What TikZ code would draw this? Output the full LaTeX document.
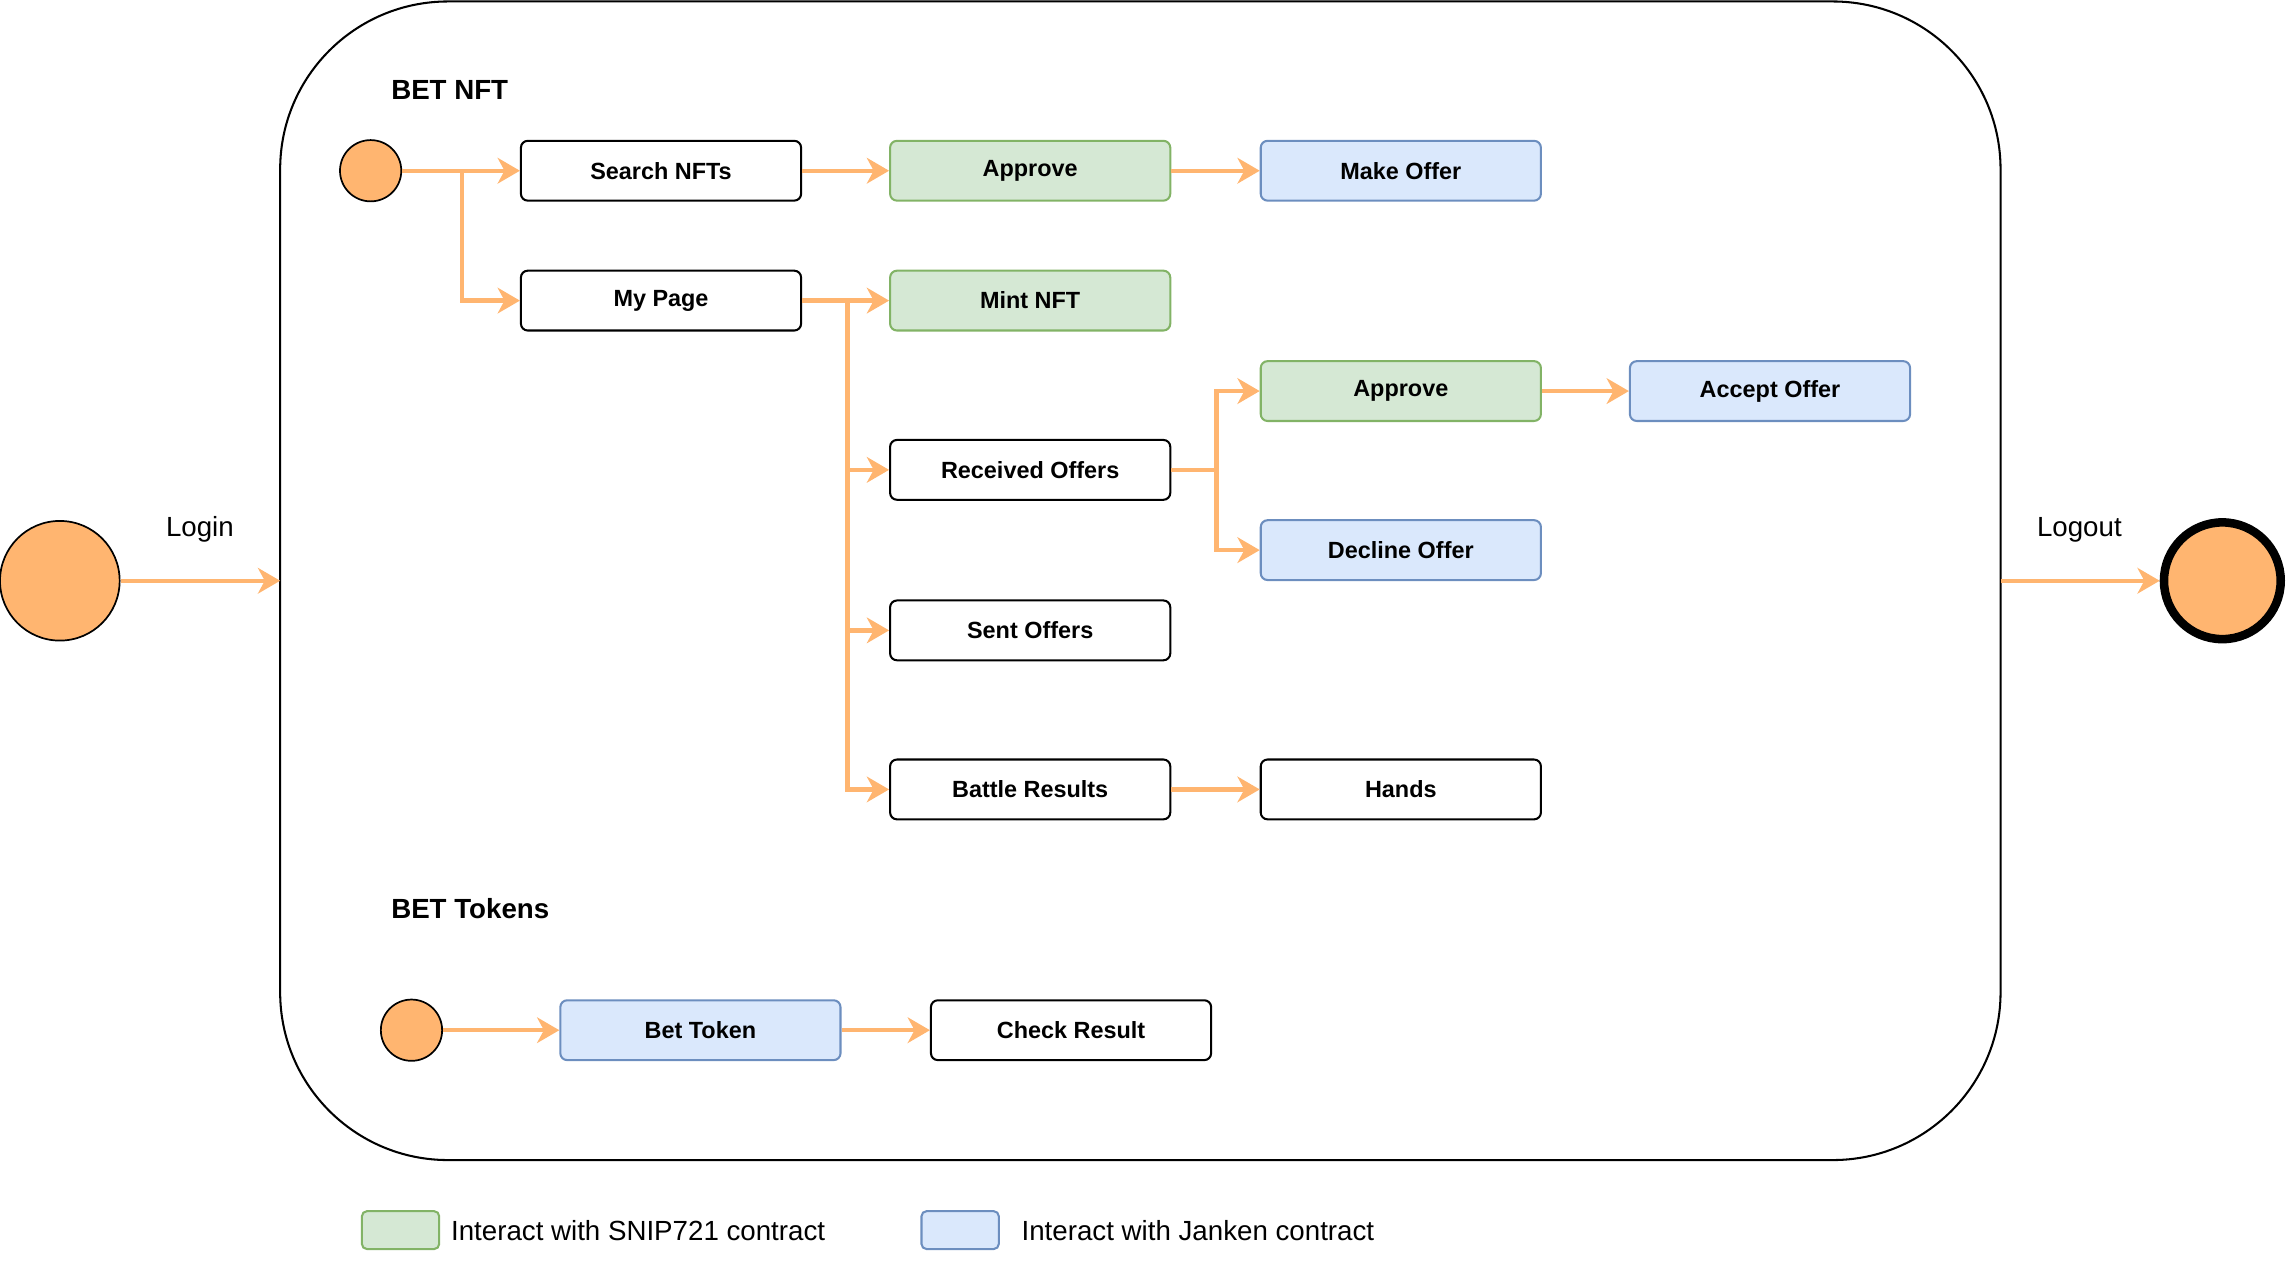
\documentclass[tikz,border=0pt]{standalone}
\usepackage{fontspec}
\setmainfont{Liberation Sans}
\usepackage{xcolor}
\usetikzlibrary{arrows.meta,shapes,calc}

\definecolor{orng}{HTML}{FFB570}
\definecolor{grnfill}{HTML}{D5E8D4}
\definecolor{grnline}{HTML}{82B366}
\definecolor{blufill}{HTML}{DAE8FC}
\definecolor{bluline}{HTML}{6C8EBF}

\begin{document}
\begin{tikzpicture}[x=0.03cm,y=-0.03cm]
            \tikzset{state/.style = {draw, rounded corners=4pt, line width=1.2pt, minimum width=5.76cm, minimum height=1.23cm, font=\fontsize{13.7}{16}\selectfont\bfseries}}
            \tikzset{snip/.style = {state, fill=grnfill, draw=grnline}}
            \tikzset{janken/.style = {state, fill=blufill, draw=bluline}}
            \tikzset{dot/.style = {circle, draw, fill=orng, line width=1pt, inner sep=0pt}}
            \tikzset{edge/.style = {draw=orng, line width=2.5pt, -{Stealth[length=13pt,width=15pt,inset=4pt]}}}
            \tikzset{caption/.style = {font=\fontsize{16.2}{19}\selectfont}}
            \tikzset{head/.style = {anchor=west, font=\fontsize{16.2}{19}\selectfont\bfseries}}
            \tikzset{swatch/.style = {draw, rounded corners=3pt, line width=1.2pt, minimum width=1.59cm, minimum height=0.78cm}}

            \useasboundingbox (0,0) rectangle (1568,866);

            % frame
            \draw[line width=1.2pt, rounded corners=3.45cm] (192,1) rectangle (1371,795);
            \coordinate (framein) at (192,398);
            \coordinate (frameout) at (1371,398);

            % vertices
            \node[dot, minimum size=2.46cm] (login) at (41,398) {};
            \node[dot, minimum size=2.4cm, line width=5pt] (logout) at (1523,398) {};
            \node[caption] (logintxt) at (137,363) {Login};
            \node[caption] (logouttxt) at (1425,363) {Logout};

            \node[head] (nfthead) at (264,62) {BET NFT};
            \node[dot, minimum size=1.26cm] (start) at (254,117) {};
            \node[state] (search) at (453,117) {Search NFTs};
            \node[state] (mypage) at (453,206) {My Page};
            \node[snip] (approve) at (706,117) {Approve};
            \node[janken] (offer) at (960,117) {Make Offer};
            \node[snip] (mint) at (706,206) {Mint NFT};
            \node[state] (recv) at (706,322) {Received Offers};
            \node[state] (sent) at (706,432) {Sent Offers};
            \node[state] (battle) at (706,541) {Battle Results};
            \node[snip] (approvetwo) at (960,268) {Approve};
            \node[janken] (accept) at (1213,268) {Accept Offer};
            \node[janken] (decline) at (960,377) {Decline Offer};
            \node[state] (hands) at (960,541) {Hands};

            \node[head] (tokhead) at (264,623) {BET Tokens};
            \node[dot, minimum size=1.26cm] (tokstart) at (282,706) {};
            \node[janken] (bettoken) at (480,706) {Bet Token};
            \node[state] (check) at (734,706) {Check Result};

            % legend
            \node[swatch, fill=grnfill, draw=grnline] (keysnip) at (274.5,843) {};
            \node[caption, anchor=west] (keysniptxt) at (305,843) {Interact with SNIP721 contract};
            \node[swatch, fill=blufill, draw=bluline] (keyjanken) at (658,843) {};
            \node[caption, anchor=west] (keyjankentxt) at (696,843) {Interact with Janken contract};

            % edges
            \draw[edge] (login) -- (framein);
            \draw[edge] (frameout) -- (logout);
            \draw[edge] (start) -- (search);
            \draw[edge] (start.east) -- ++(41,0) |- (mypage);
            \draw[edge] (search) -- (approve);
            \draw[edge] (approve) -- (offer);
            \draw[edge] (mypage) -- (mint);
            \foreach \y in {recv,sent,battle} {\draw[edge] (mypage.east) -- ++(31,0) |- (\y);}
            \foreach \y in {approvetwo,decline} {\draw[edge] (recv.east) -- ++(31,0) |- (\y);}
            \draw[edge] (approvetwo) -- (accept);
            \draw[edge] (battle) -- (hands);
            \draw[edge] (tokstart) -- (bettoken);
            \draw[edge] (bettoken) -- (check);

          \end{tikzpicture}
\end{document}
